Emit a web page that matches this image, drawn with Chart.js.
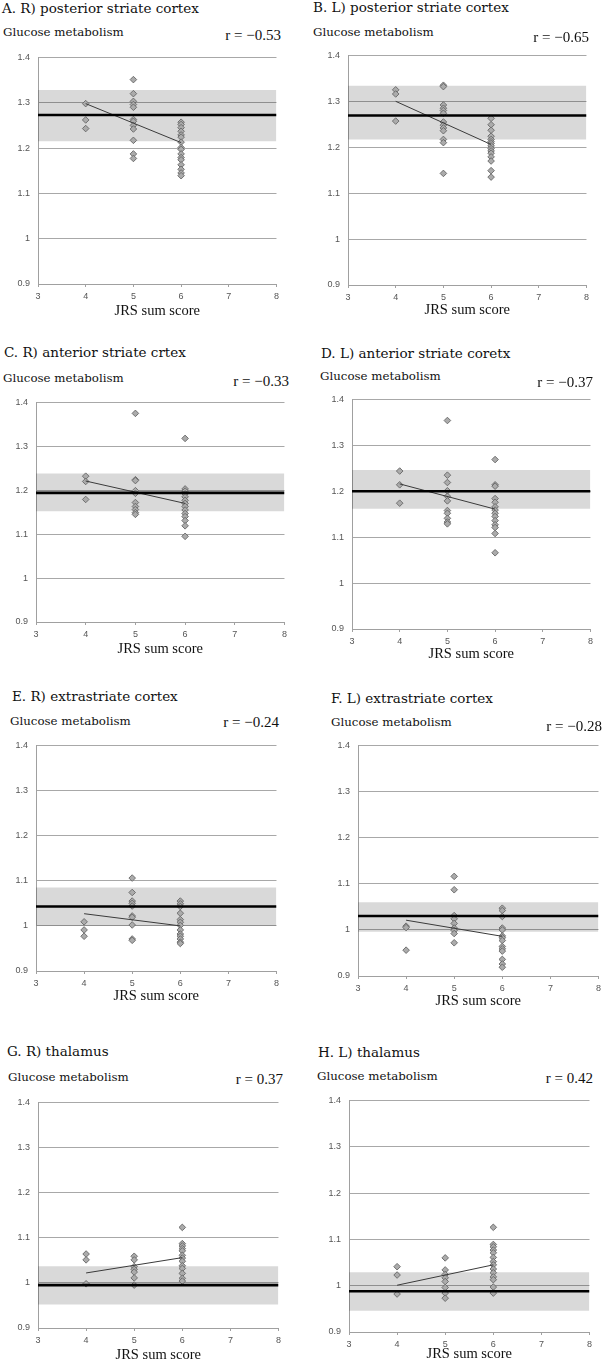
<!DOCTYPE html>
<html><head><meta charset="utf-8">
<script src="https://cdn.jsdelivr.net/npm/chart.js@4.4.0/dist/chart.umd.min.js"></script>
<style>
html,body{margin:0;padding:0;background:#fff;width:605px;height:1362px;overflow:hidden;position:relative;}
.t{position:absolute;white-space:nowrap;color:#111;line-height:1;transform:translateY(-50%);font-family:'DejaVu Serif',serif;}
.ttl{font-size:13.5px;}
.gl{font-size:11.8px;}
.rr{font-size:15px;font-family:'Liberation Serif',serif;transform:translate(-100%,-50%);}
.box{position:absolute;}
</style></head><body>
<script>
// ---------- data ----------
const panelTitles = ['A. R) posterior striate cortex','B. L) posterior striate cortex','C. R) anterior striate crtex','D. L) anterior striate coretx','E. R) extrastriate cortex','F. L) extrastriate cortex','G. R) thalamus','H. L) thalamus'];
const rLabels = ['r = \u22120.53','r = \u22120.65','r = \u22120.33','r = \u22120.37','r = \u22120.24','r = \u22120.28','r = 0.37','r = 0.42'];
const yAxisLabel = 'Glucose metabolism';
const xAxisLabel = 'JRS sum score';
const xTickValues = [3,4,5,6,7,8];
const yTickValues = [0.9,1,1.1,1.2,1.3,1.4];
const trendX = [4,6];

const A_score4 = [1.298,1.262,1.243];
const A_score5 = [1.351,1.320,1.303,1.296,1.290,1.263,1.259,1.250,1.242,1.217,1.187,1.177];
const A_score6 = [1.257,1.252,1.245,1.237,1.229,1.224,1.213,1.201,1.197,1.187,1.179,1.174,1.163,1.153,1.145,1.139];
const A_mean = 1.273, A_band = [1.215,1.328], A_trend = [1.298,1.212];

const B_score4 = [1.325,1.316,1.257];
const B_score5 = [1.335,1.332,1.292,1.285,1.280,1.274,1.255,1.248,1.242,1.236,1.217,1.210,1.143];
const B_score6 = [1.263,1.249,1.237,1.224,1.217,1.212,1.208,1.203,1.197,1.192,1.187,1.179,1.170,1.149,1.135];
const B_mean = 1.269, B_band = [1.217,1.334], B_trend = [1.300,1.206];

const C_score4 = [1.232,1.220,1.179];
const C_score5 = [1.375,1.224,1.222,1.199,1.193,1.172,1.163,1.156,1.149,1.145];
const C_score6 = [1.318,1.203,1.198,1.192,1.185,1.177,1.170,1.163,1.155,1.147,1.140,1.131,1.119,1.095];
const C_mean = 1.194, C_band = [1.152,1.238], C_trend = [1.221,1.170];

const D_score4 = [1.244,1.214,1.174];
const D_score5 = [1.354,1.235,1.219,1.201,1.189,1.179,1.158,1.152,1.141,1.133,1.129];
const D_score6 = [1.269,1.214,1.211,1.184,1.176,1.166,1.159,1.152,1.145,1.136,1.127,1.121,1.108,1.066];
const D_mean = 1.200, D_band = [1.162,1.246], D_trend = [1.216,1.161];

const E_score4 = [1.009,0.991,0.977];
const E_score5 = [1.106,1.074,1.055,1.050,1.044,1.022,1.019,1.002,0.971,0.968];
const E_score6 = [1.055,1.049,1.043,1.028,1.014,1.008,1.001,0.991,0.982,0.977,0.971,0.964,0.961];
const E_mean = 1.043, E_band = [1.000,1.085], E_trend = [1.027,1.000];

const F_score4 = [1.008,1.005,0.956];
const F_score5 = [1.116,1.087,1.031,1.024,1.014,1.004,0.999,0.992,0.972];
const F_score6 = [1.047,1.042,1.029,1.004,1.000,0.987,0.983,0.977,0.964,0.959,0.954,0.936,0.926,0.919];
const F_mean = 1.030, F_band = [0.996,1.060], F_trend = [1.021,0.986];

const G_score4 = [1.064,1.051,0.998];
const G_score5 = [1.059,1.051,1.036,1.030,1.024,1.011,0.995];
const G_score6 = [1.123,1.087,1.082,1.076,1.071,1.061,1.055,1.048,1.038,1.032,1.021,1.010,1.004];
const G_mean = 0.995, G_band = [0.952,1.037], G_trend = [1.022,1.056];

const H_score4 = [1.041,1.023,0.982];
const H_score5 = [1.060,1.034,1.024,1.017,1.009,0.996,0.984,0.973];
const H_score6 = [1.126,1.089,1.084,1.077,1.071,1.061,1.052,1.045,1.036,1.028,1.019,1.013,0.997,0.984];
const H_mean = 0.988, H_band = [0.946,1.029], H_trend = [1.001,1.045];

const panels = [
  {s4:A_score4,s5:A_score5,s6:A_score6,mean:A_mean,band:A_band,trend:A_trend},
  {s4:B_score4,s5:B_score5,s6:B_score6,mean:B_mean,band:B_band,trend:B_trend},
  {s4:C_score4,s5:C_score5,s6:C_score6,mean:C_mean,band:C_band,trend:C_trend},
  {s4:D_score4,s5:D_score5,s6:D_score6,mean:D_mean,band:D_band,trend:D_trend},
  {s4:E_score4,s5:E_score5,s6:E_score6,mean:E_mean,band:E_band,trend:E_trend},
  {s4:F_score4,s5:F_score5,s6:F_score6,mean:F_mean,band:F_band,trend:F_trend},
  {s4:G_score4,s5:G_score5,s6:G_score6,mean:G_mean,band:G_band,trend:G_trend},
  {s4:H_score4,s5:H_score5,s6:H_score6,mean:H_mean,band:H_band,trend:H_trend}
];

// ---------- layout (page px) ----------
const layout = [
  {plot:[38,54,279,284],   title:[2,9],     gl:[3,33],    r:[281,35],   xt:312},
  {plot:[348,52,589,285],  title:[313,8],   gl:[313,33],  r:[589,37],   xt:311},
  {plot:[36,399,287,622],  title:[4,353],   gl:[3,379],   r:[289,381],  xt:650},
  {plot:[352,396,593,629], title:[321,354], gl:[320,377], r:[593,382],  xt:655},
  {plot:[36,742,279,971],  title:[12,697],  gl:[10,722],  r:[279,722],  xt:997},
  {plot:[358,742,601,976], title:[331,699], gl:[331,723], r:[602,726],  xt:1002},
  {plot:[38,1099,281,1328],title:[7,1052],  gl:[8,1078],  r:[283,1079], xt:1356},
  {plot:[349,1097,592,1332],title:[318,1053],gl:[317,1077],r:[593,1078],xt:1355}
];

function addText(cls, txt, x, y){
  const d=document.createElement('div'); d.className='t '+cls; d.textContent=txt;
  d.style.left=x+'px'; d.style.top=y+'px'; document.body.appendChild(d);
}

panels.forEach((p,i)=>{
  const L=layout[i];
  const [pl,pt,pr,pb]=L.plot;
  const padL=40, padT=10, padR=4;
  const padB=Math.round(L.xt-pb+8.4);
  const w=pr-pl+padL+padR, h=pb-pt+padT+padB;
  const box=document.createElement('div'); box.className='box';
  box.style.left=(pl-padL)+'px'; box.style.top=(pt-padT)+'px';
  box.style.width=w+'px'; box.style.height=h+'px';
  const c=document.createElement('canvas'); c.width=w; c.height=h;
  c.style.width=w+'px'; c.style.height=h+'px';
  box.appendChild(c); document.body.appendChild(box);

  addText('ttl', panelTitles[i], L.title[0], L.title[1]);
  addText('gl', yAxisLabel, L.gl[0], L.gl[1]);
  addText('rr', rLabels[i], L.r[0], L.r[1]);

  const pts=[].concat(p.s4.map(y=>({x:4,y})), p.s5.map(y=>({x:5,y})), p.s6.map(y=>({x:6,y})));
  const x0=xTickValues[0], x1=xTickValues[xTickValues.length-1];

  new Chart(c,{
    type:'scatter',
    data:{datasets:[
      {type:'line',data:[{x:x0,y:p.band[1]},{x:x1,y:p.band[1]}],fill:{value:p.band[0]},
       backgroundColor:'rgba(0,0,0,0.15)',borderWidth:0,pointRadius:0,order:4},
      {data:pts,pointStyle:'rectRot',pointRadius:3.3,backgroundColor:'#ababab',
       borderColor:'#666',borderWidth:0.9,order:3},
      {type:'line',data:[{x:trendX[0],y:p.trend[0]},{x:trendX[1],y:p.trend[1]}],
       borderColor:'#3a3a3a',borderWidth:1,pointRadius:0,fill:false,order:2},
      {type:'line',data:[{x:x0,y:p.mean},{x:x1,y:p.mean}],borderColor:'#000',
       borderWidth:2.6,pointRadius:0,fill:false,order:1}
    ]},
    options:{
      responsive:false, animation:false, devicePixelRatio:1,
      layout:{padding:{left:0,top:padT,right:padR,bottom:0}},
      plugins:{legend:{display:false},tooltip:{enabled:false}},
      scales:{
        x:{type:'linear',min:x0,max:x1,
          afterBuildTicks:s=>{s.ticks=xTickValues.map(v=>({value:v}));},
          afterFit:s=>{s.height=padB;},
          ticks:{font:{family:'Liberation Sans',size:9},color:'#555',padding:4,maxRotation:0},
          grid:{drawOnChartArea:false,drawTicks:true,tickLength:3,color:'#a0a0a0'},
          border:{color:'#a0a0a0'},
          title:{display:true,text:xAxisLabel,font:{family:'Liberation Serif',size:14.5},color:'#111',padding:{top:0,bottom:0}}
        },
        y:{min:yTickValues[0],max:yTickValues[yTickValues.length-1],
          afterBuildTicks:s=>{s.ticks=yTickValues.map(v=>({value:v}));},
          afterFit:s=>{s.width=padL;},
          ticks:{font:{family:'Liberation Sans',size:9},color:'#555',padding:8,
            callback:v=>String(Math.round(v*10)/10)},
          grid:{color:'#a8a8a8',drawTicks:false},
          border:{color:'#a0a0a0'}
        }
      }
    }
  });
});
</script>
</body></html>
